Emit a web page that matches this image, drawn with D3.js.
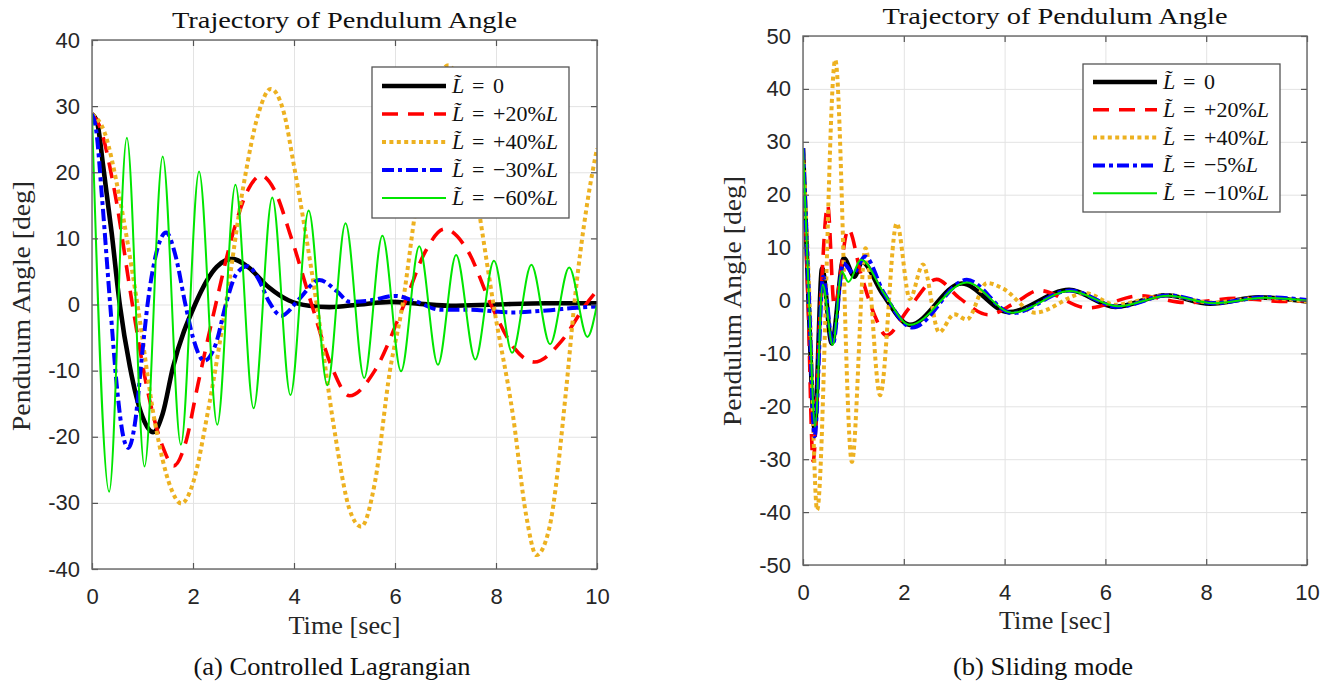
<!DOCTYPE html>
<html>
<head>
<meta charset="utf-8">
<script src="https://cdn.jsdelivr.net/npm/d3@7"></script>
<style>
body { margin: 0; background: #fff; }
</style>
</head>
<body>
<svg id="fig" width="1333" height="686"></svg>
<script>
// tick values
var timeTicks = [0, 2, 4, 6, 8, 10]
var angleTicksA = [-40, -30, -20, -10, 0, 10, 20, 30, 40]
var angleTicksB = [-50, -40, -30, -20, -10, 0, 10, 20, 30, 40, 50]

var clNominal = [[0,28.8],[0.1,27.6],[0.22,21],[0.39,10.8],[0.55,0],[0.75,-9.4],[1.0,-17],[1.21,-19.3],[1.4,-16.5],[1.6,-9.6],[2.04,0],[2.47,5.7],[2.78,6.9],[3.1,5.6],[3.5,2.6],[3.9,0.6],[4.3,-0.2],[4.7,-0.4],[5.3,0],[5.9,0.4],[6.5,0.1],[7.1,-0.2],[8,0],[9,0.2],[10,0.2]]
var clPlus20 = [[0,28.8],[0.15,27],[0.45,17],[0.8,0],[1.1,-13],[1.4,-21.5],[1.62,-24.4],[1.85,-21],[2.1,-12],[2.45,0],[2.8,11],[3.1,17.5],[3.35,19.5],[3.6,17.5],[3.95,10],[4.35,0],[4.75,-9.5],[5.1,-13.8],[5.6,-10],[6.18,0],[6.6,8],[6.98,11.4],[7.45,8],[7.9,0],[8.35,-6.5],[8.76,-8.7],[9.3,-5.5],[9.78,0],[10,2.1]]
var clPlus40 = [[0,28.8],[0.25,26],[0.55,16],[0.9,0],[1.25,-18],[1.55,-27.5],[1.77,-30.1],[2.0,-27],[2.3,-16],[2.65,0],[3.0,18],[3.3,29],[3.54,32.6],[3.8,29],[3.99,21.4],[4.45,0],[4.8,-19],[5.1,-31],[5.33,-33.6],[5.6,-27],[5.9,-10],[6.15,0],[6.4,14],[6.75,31],[7.06,36.2],[7.3,32],[7.68,13.3],[7.95,0],[8.34,-17],[8.6,-32],[8.8,-37.9],[9.05,-34],[9.4,-12],[9.55,0],[9.8,15],[10,23.6]]
var clMinus30 = [[0,28.8],[0.08,26.5],[0.2,16],[0.36,0],[0.5,-13],[0.62,-20],[0.72,-21.7],[0.85,-18],[1.0,-7],[1.1,0],[1.25,7],[1.47,10.9],[1.65,7.5],[1.85,0],[2.0,-5],[2.22,-8.5],[2.45,-6],[2.65,0],[2.85,4.5],[3.08,5.8],[3.3,3.8],[3.5,0.5],[3.75,-1.7],[4.1,0.8],[4.5,3.7],[4.85,2],[5.1,0.4],[5.5,0.6],[6.0,1.3],[6.4,0.5],[6.9,-0.8],[7.5,-0.8],[8.3,-1.2],[9.0,-0.9],[9.6,-0.5],[10,-0.3]]
var clMinus60 = [[0,28.8],[0.34,-28.3],[0.69,25.2],[1.04,-24.5],[1.4,22.4],[1.76,-21.2],[2.12,20.1],[2.48,-18.2],[2.84,18.1],[3.2,-15.7],[3.57,16.2],[3.93,-13.7],[4.29,14.2],[4.66,-12.2],[5.02,12.3],[5.39,-11.1],[5.75,10.4],[6.12,-10.1],[6.48,8.8],[6.85,-9.1],[7.21,7.5],[7.59,-8.3],[7.96,6.6],[8.32,-7.3],[8.7,6.0],[9.07,-6.0],[9.45,5.6],[9.81,-4.9],[10,0]]

// (b) sliding mode
var smNominal = [[0,28.8],[0.11,0],[0.23,-24.2],[0.38,6.1],[0.57,-8.1],[0.81,8.0],[1.02,4.5],[1.17,7.3],[1.57,1.4],[2.12,-4.6],[3.15,3.2],[4.08,-2.2],[5.28,2.0],[6.2,-1.2],[7.2,1.0],[8.08,-0.6],[9.05,0.6],[10,-0.2]]
var smPlus20 = [[0,28.8],[0.1,0],[0.2,-30.4],[0.35,0],[0.49,18],[0.62,-1],[0.9,13.5],[1.15,5],[1.43,-3],[1.65,-6.6],[2.1,-1.5],[2.65,4.0],[3.1,0.5],[3.68,-2.7],[4.2,-0.5],[4.68,1.9],[5.65,-1.4],[6.7,0.9],[7.6,-0.4],[8.6,0.4],[9.6,-0.2],[10,0]]
var smPlus40 = [[0,28.8],[0.13,0],[0.28,-39.6],[0.64,45.5],[0.97,-30.5],[1.24,9.9],[1.53,-17.9],[1.86,14.6],[2.12,0.3],[2.38,6.8],[2.7,-6],[3.0,-2.6],[3.25,-3.6],[3.65,3.3],[3.98,2.2],[4.6,-2.3],[5.6,1.4],[6.2,-0.8],[7.2,1.0],[8.1,-0.4],[9.1,0.5],[10,-0.2]]
var smMinus5 = [[0,28.8],[0.12,0],[0.23,-25.7],[0.4,4.5],[0.59,-8.3],[0.8,7.0],[1.0,5.2],[1.23,8.3],[1.6,1.5],[2.17,-5.1],[3.25,3.9],[4.15,-2.4],[5.3,1.9],[6.25,-1.2],[7.25,1.0],[8.15,-0.5],[9.15,0.6],[10,0.1]]
var smMinus10 = [[0,28.8],[0.12,0],[0.24,-23.8],[0.39,3],[0.59,-8.4],[0.77,5.5],[0.9,3.5],[1.15,7.7],[1.6,1.5],[2.12,-4.6],[3.25,3.4],[4.15,-2.3],[5.3,1.8],[6.25,-1.1],[7.25,0.9],[8.15,-0.5],[9.15,0.5],[10,0]]

var legendA = ["0", "+20%", "+40%", "\u221230%", "\u221260%"]
var legendB = ["0", "+20%", "+40%", "\u22125%", "\u221210%"]

// line styles, same order as the legends
var styles = [
    { color: "#000000", width: 4.6, dash: null },
    { color: "#ff0000", width: 3.6, dash: "16,10" },
    { color: "#edb120", width: 4, dash: "4,3.4" },
    { color: "#0000ff", width: 4, dash: "12,4,4,4" },
    { color: "#00e600", width: 2, dash: null }
]

var serif = "'Liberation Serif', 'Times New Roman', serif"
var sans = "'Liberation Sans', Arial, sans-serif"

var svg = d3.select("#fig")

function panel(cfg) {
    var g = svg.append("g")
    var x = d3.scaleLinear().domain([0, 10]).range([cfg.left, cfg.right])
    var y = d3.scaleLinear().domain(cfg.yDomain).range([cfg.bottom, cfg.top])
    var w = cfg.right - cfg.left
    var h = cfg.bottom - cfg.top

    // grid
    var gx = g.append("g").attr("transform", "translate(0," + cfg.bottom + ")")
        .call(d3.axisBottom(x).tickValues(timeTicks).tickSize(-h).tickFormat(""))
    var gy = g.append("g").attr("transform", "translate(" + cfg.left + ",0)")
        .call(d3.axisLeft(y).tickValues(cfg.yTicks).tickSize(-w).tickFormat(""))
    ;[gx, gy].forEach(function(a) {
        a.select(".domain").remove()
        a.selectAll("line").attr("stroke", "#e3e3e3").attr("stroke-width", 1)
    })

    var clipId = "clip" + cfg.id
    svg.append("clipPath").attr("id", clipId).append("rect")
        .attr("x", cfg.left).attr("y", cfg.top).attr("width", w).attr("height", h)

    var line = d3.line()
        .x(function(d) { return x(d[0]) })
        .y(function(d) { return y(d[1]) })
        .curve(d3.curveMonotoneX)

    var lines = g.append("g").attr("clip-path", "url(#" + clipId + ")")
    cfg.series.forEach(function(s, i) {
        lines.append("path")
            .attr("d", line(s))
            .attr("fill", "none")
            .attr("stroke", styles[i].color)
            .attr("stroke-width", styles[i].width)
            .attr("stroke-dasharray", styles[i].dash)
            .attr("stroke-linejoin", "round")
    })

    // axes with inward ticks
    var axB = g.append("g").attr("transform", "translate(0," + cfg.bottom + ")")
        .call(d3.axisBottom(x).tickValues(timeTicks).tickSizeInner(-6).tickSizeOuter(0)
            .tickPadding(19).tickFormat(function(d) { return String(d) }))
    var axL = g.append("g").attr("transform", "translate(" + cfg.left + ",0)")
        .call(d3.axisLeft(y).tickValues(cfg.yTicks).tickSizeInner(-6).tickSizeOuter(0)
            .tickPadding(12).tickFormat(function(d) { return String(d) }))
    var axT = g.append("g").attr("transform", "translate(0," + cfg.top + ")")
        .call(d3.axisTop(x).tickValues(timeTicks).tickSizeInner(-6).tickSizeOuter(0).tickFormat(""))
    var axR = g.append("g").attr("transform", "translate(" + cfg.right + ",0)")
        .call(d3.axisRight(y).tickValues(cfg.yTicks).tickSizeInner(-6).tickSizeOuter(0).tickFormat(""))
    ;[axB, axL, axT, axR].forEach(function(a) {
        a.select(".domain").remove()
        a.selectAll("line").attr("stroke", "#555").attr("stroke-width", 1.2)
        a.selectAll("text").attr("fill", "#262626")
            .style("font-family", sans).style("font-size", "22px")
    })

    g.append("rect")
        .attr("x", cfg.left).attr("y", cfg.top).attr("width", w).attr("height", h)
        .attr("fill", "none").attr("stroke", "#666").attr("stroke-width", 1.4)

    // titles and labels
    g.append("text").text("Trajectory of Pendulum Angle")
        .attr("x", (cfg.left + cfg.right) / 2).attr("y", cfg.titleY)
        .attr("text-anchor", "middle").attr("fill", "#111")
        .style("font-family", serif).style("font-size", "23px")
        .attr("textLength", 345).attr("lengthAdjust", "spacingAndGlyphs")
    g.append("text").text("Time [sec]")
        .attr("x", (cfg.left + cfg.right) / 2).attr("y", cfg.xLabelY)
        .attr("text-anchor", "middle").attr("fill", "#262626")
        .style("font-family", serif).style("font-size", "25px")
        .attr("textLength", 112).attr("lengthAdjust", "spacingAndGlyphs")
    g.append("text").text("Pendulum Angle [deg]")
        .attr("transform", "translate(" + cfg.yLabelX + "," + cfg.yLabelY + ") rotate(-90)")
        .attr("text-anchor", "middle").attr("fill", "#262626")
        .style("font-family", serif).style("font-size", "25px")
        .attr("textLength", 250).attr("lengthAdjust", "spacingAndGlyphs")
    g.append("text").text(cfg.caption)
        .attr("x", cfg.captionX).attr("y", 675)
        .attr("text-anchor", "middle").attr("fill", "#111")
        .style("font-family", serif).style("font-size", "25px")
        .attr("textLength", cfg.captionW).attr("lengthAdjust", "spacingAndGlyphs")

    // legend
    var lg = g.append("g")
    var lb = cfg.legend
    lg.append("rect")
        .attr("x", lb.x).attr("y", lb.y).attr("width", lb.w).attr("height", lb.h)
        .attr("fill", "#fff").attr("stroke", "#555").attr("stroke-width", 1.3)
    cfg.labels.forEach(function(lab, i) {
        var ry = lb.row0 + i * lb.step
        lg.append("line")
            .attr("x1", lb.x + 10).attr("x2", lb.x + 74).attr("y1", ry).attr("y2", ry)
            .attr("stroke", styles[i].color)
            .attr("stroke-width", styles[i].width)
            .attr("stroke-dasharray", styles[i].dash)
        var tx = lb.x + 80
        var t = lg.append("text").attr("x", tx).attr("y", ry + 7)
            .attr("fill", "#111")
            .style("font-family", serif).style("font-size", "22px")
        t.append("tspan").style("font-style", "italic").text("L\u0303")
        t.append("tspan").attr("x", tx + 20).text("=")
        t.append("tspan").attr("x", tx + 41).text(lab)
        if (lab !== "0") t.append("tspan").style("font-style", "italic").text("L")
    })
}

panel({
    id: "a", left: 92, right: 597, top: 40, bottom: 569,
    yDomain: [-40, 40], yTicks: angleTicksA,
    series: [clNominal, clPlus20, clPlus40, clMinus30, clMinus60],
    labels: legendA,
    titleY: 28, xLabelY: 634, yLabelX: 30, yLabelY: 306,
    caption: "(a) Controlled Lagrangian", captionX: 332, captionW: 277,
    legend: { x: 372, y: 67, w: 197, h: 151, row0: 86, step: 28 }
})

panel({
    id: "b", left: 803, right: 1307, top: 36, bottom: 565,
    yDomain: [-50, 50], yTicks: angleTicksB,
    series: [smNominal, smPlus20, smPlus40, smMinus5, smMinus10],
    labels: legendB,
    titleY: 24, xLabelY: 629, yLabelX: 741, yLabelY: 301,
    caption: "(b) Sliding mode", captionX: 1043, captionW: 180,
    legend: { x: 1083, y: 64, w: 197, h: 148, row0: 82, step: 27.8 }
})
</script>
</body>
</html>
